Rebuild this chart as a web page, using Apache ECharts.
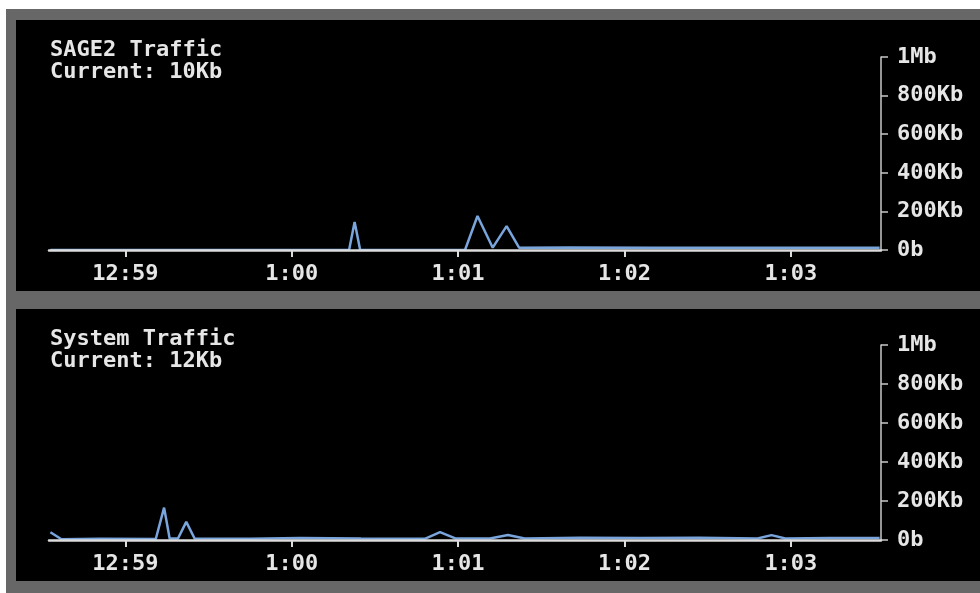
<!DOCTYPE html>
<html>
<head>
<meta charset="utf-8">
<script src="https://cdn.jsdelivr.net/npm/echarts@6/dist/echarts.min.js"></script>
<style>
  html, body { margin: 0; padding: 0; background: #ffffff; }
  #frame { position: absolute; left: 6px; top: 9px; width: 974px; height: 584px; background: #676767; }
  .panel { position: absolute; left: 16px; width: 964px; background: #000000; }
  #p1 { top: 20px; height: 271px; }
  #p2 { top: 309px; height: 272px; }
  #chart { position: absolute; left: 0; top: 0; width: 980px; height: 593px; }
</style>
</head>
<body>
<div id="frame"></div>
<div class="panel" id="p1"></div>
<div class="panel" id="p2"></div>
<div id="chart"></div>
<script>
// ---- data (values in Kb) ----
const titles = ["SAGE2 Traffic\nCurrent: 10Kb", "System Traffic\nCurrent: 12Kb"];
const axisStart = "12:58:32.5";
const axisEnd = "13:03:32.5";
const yTicks = [0, 200, 400, 600, 800, 1000];
const yTickLabels = ["0b", "200Kb", "400Kb", "600Kb", "800Kb", "1Mb"];

const sageTimes = ["12:58:33", "13:00:20.7", "13:00:22.7", "13:00:24.7", "13:01:02.5", "13:01:07",
  "13:01:12.5", "13:01:17.5", "13:01:22", "13:01:40", "13:02:10", "13:02:40", "13:03:10", "13:03:32"];
const sageValues = [0, 0, 145, 0, 0, 176, 12, 124, 12, 13, 12, 12, 12, 12];

const sysTimes = ["12:58:33", "12:58:37", "12:58:51", "12:59:11", "12:59:14", "12:59:16",
  "12:59:19", "12:59:22", "12:59:25", "12:59:45", "13:00:03", "13:00:25", "13:00:48",
  "13:00:53.5", "13:00:59", "13:01:11.5", "13:01:18", "13:01:24", "13:01:44", "13:02:05.6",
  "13:02:27", "13:02:48", "13:02:53", "13:02:58", "13:03:14", "13:03:32"];
const sysValues = [40, 4, 6, 5, 166, 8, 8, 93, 8, 6, 10, 8, 6, 40, 8, 8, 26, 8, 12, 10, 12, 8, 25, 8, 10, 10];

// ---- helpers ----
function toTs(str) {
  const p = str.split(":");
  const sec = parseFloat(p[2]);
  const d = new Date(2020, 0, 1, parseInt(p[0], 10), parseInt(p[1], 10), 0, 0);
  return d.getTime() + Math.round(sec * 1000);
}
function pairs(times, vals) { return times.map((t, i) => [toTs(t), vals[i]]); }
function fmtTime(v) {
  const d = new Date(v);
  const h = d.getHours() % 12 || 12;
  const m = d.getMinutes();
  return h + ":" + (m < 10 ? "0" + m : m);
}

const FONT = "DejaVu Sans Mono";
const TXT = "#e6e6e6";
const LINE = "#79a5dc";

const grids = [
  { left: 49, width: 832, top: 57, height: 193 },
  { left: 49, width: 832, top: 345, height: 195 }
];

function xAxisFor(i) {
  return {
    type: "time", gridIndex: i, zlevel: 1, z: 5,
    min: toTs(axisStart), max: toTs(axisEnd),
    minInterval: 60000, maxInterval: 60000,
    axisLine: { show: true, lineStyle: { color: "#dcdcdc", width: 2.5 } },
    axisTick: { show: true, length: 7, lineStyle: { color: "#dcdcdc", width: 2 } },
    axisLabel: {
      color: TXT, fontFamily: FONT, fontSize: 22, fontWeight: "bold", margin: 13,
      showMinLabel: false, showMaxLabel: false,
      formatter: fmtTime
    },
    splitLine: { show: false }
  };
}
function yAxisFor(i) {
  return {
    type: "value", gridIndex: i, position: "right",
    min: yTicks[0], max: yTicks[yTicks.length - 1], interval: yTicks[1] - yTicks[0],
    axisLine: { show: true, lineStyle: { color: "#c8c8c8", width: 1.5 } },
    axisTick: { show: true, inside: false, length: 7, lineStyle: { color: "#c8c8c8", width: 1.5 } },
    axisLabel: {
      color: TXT, fontFamily: FONT, fontSize: 22, fontWeight: "bold", margin: 16,
      formatter: v => yTickLabels[yTicks.indexOf(v)]
    },
    splitLine: { show: false }
  };
}

const chart = echarts.init(document.getElementById("chart"), null, { renderer: "canvas" });
chart.setOption({
  backgroundColor: "transparent",
  animation: false,
  title: [
    { text: titles[0], left: 45, top: 34,
      textStyle: { color: TXT, fontFamily: FONT, fontSize: 22, fontWeight: "bold", lineHeight: 22 } },
    { text: titles[1], left: 45, top: 323,
      textStyle: { color: TXT, fontFamily: FONT, fontSize: 22, fontWeight: "bold", lineHeight: 22 } }
  ],
  grid: grids,
  xAxis: [xAxisFor(0), xAxisFor(1)],
  yAxis: [yAxisFor(0), yAxisFor(1)],
  series: [
    { type: "line", xAxisIndex: 0, yAxisIndex: 0, data: pairs(sageTimes, sageValues), z: 1,
      showSymbol: false, lineStyle: { color: LINE, width: 2.5 }, silent: true },
    { type: "line", xAxisIndex: 1, yAxisIndex: 1, data: pairs(sysTimes, sysValues), z: 1,
      showSymbol: false, lineStyle: { color: LINE, width: 2.5 }, silent: true }
  ]
});
</script>
</body>
</html>
